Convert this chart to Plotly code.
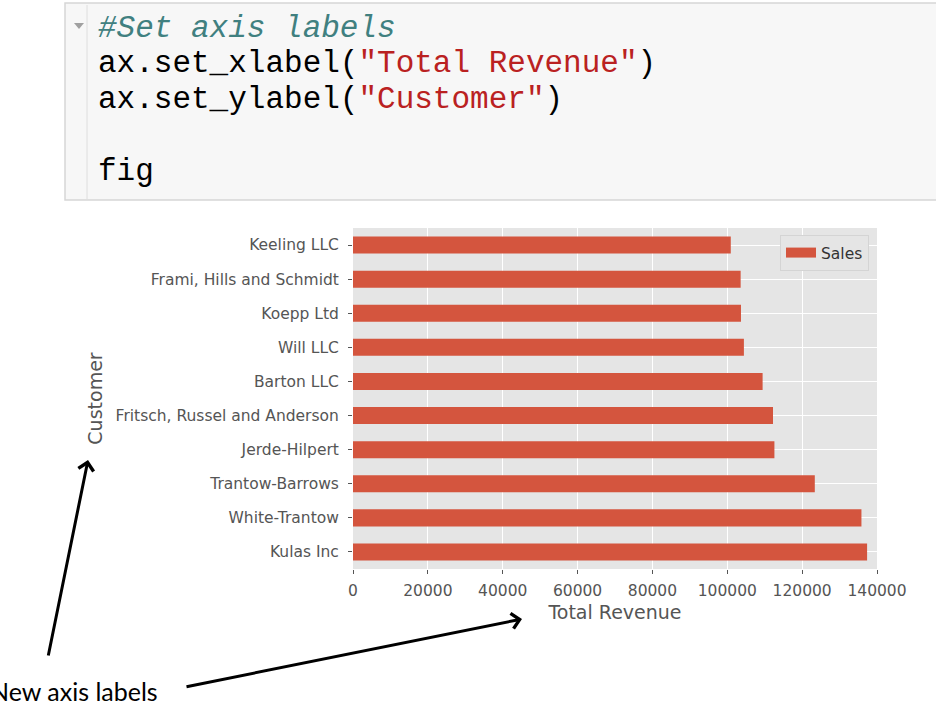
import plotly.graph_objects as go

# ---- data ----
customers = ["Kulas Inc", "White-Trantow", "Trantow-Barrows", "Jerde-Hilpert",
             "Fritsch, Russel and Anderson", "Barton LLC", "Will LLC", "Koepp Ltd",
             "Frami, Hills and Schmidt", "Keeling LLC"]
sales = [137351.96, 135841.99, 123381.38, 112591.43, 112214.71,
         109438.50, 104437.60, 103660.54, 103569.59, 100934.30]
series_name = "Sales"
x_title = "Total Revenue"
y_title = "Customer"
code_lines = [
    '<i>#Set axis labels</i>',
    'ax.set_xlabel(<span style="color:#BA2121">"Total Revenue"</span>)',
    'ax.set_ylabel(<span style="color:#BA2121">"Customer"</span>)',
    'fig',
]
note_text = "New axis labels"

# ---- layout geometry (pixels) ----
W, H = 936, 718
L, R, T, B = 353, 877, 228, 569

def px(x):
    return (x - L) / (R - L)

def py(y):
    return (B - y) / (B - T)

BAR = "#d4553e"
GREY = "#555555"
TICK_SIZE = 15.5

fig = go.Figure()
fig.add_trace(go.Bar(
    x=sales, y=customers, orientation="h", name=series_name,
    marker=dict(color=BAR, line=dict(width=0)), width=0.5, showlegend=False,
))
# legend entry (wide patch like matplotlib)
fig.add_trace(go.Scatter(
    x=[None], y=[None], mode="lines", name=series_name,
    line=dict(color=BAR, width=10), showlegend=True,
))

fig.update_layout(
    width=W, height=H,
    margin=dict(l=L, r=W - R, t=T, b=H - B, autoexpand=False),
    paper_bgcolor="white",
    plot_bgcolor="#e5e5e5",
    font=dict(family="DejaVu Sans", size=TICK_SIZE, color=GREY),
    legend=dict(
        x=px(869), y=py(235), xanchor="right", yanchor="top",
        bgcolor="#e5e5e5", bordercolor="#d4d4d4", borderwidth=1,
        font=dict(family="DejaVu Sans", size=TICK_SIZE, color="#333333"),
    ),
    xaxis=dict(
        range=[0, 140000], dtick=20000, tick0=0, tickformat="d",
        showgrid=True, gridcolor="white", gridwidth=1.2,
        zeroline=False, ticks="outside", ticklen=4, tickcolor=GREY,
        tickfont=dict(size=TICK_SIZE, color=GREY), showline=False,
        ticklabelstandoff=3,
        title=dict(text=x_title, font=dict(size=19, color=GREY), standoff=7),
    ),
    yaxis=dict(
        type="category", categoryorder="array", categoryarray=customers,
        showgrid=True, gridcolor="white", gridwidth=1.2,
        ticks="outside", ticklen=4, tickcolor=GREY,
        tickfont=dict(size=TICK_SIZE, color=GREY), showline=False,
        ticklabelstandoff=6,
        title=dict(text=y_title, font=dict(size=19, color=GREY), standoff=7),
    ),
)

# ---- code cell decoration ----
fig.add_shape(type="rect", xref="paper", yref="paper",
              x0=px(65), x1=px(945), y0=py(3), y1=py(200),
              fillcolor="#f7f7f7", line=dict(color="#d6d6d6", width=1.5), layer="below")
fig.add_shape(type="line", xref="paper", yref="paper",
              x0=px(87), x1=px(87), y0=py(5), y1=py(199),
              line=dict(color="#dedede", width=1))
fig.add_shape(type="path", xref="paper", yref="paper",
              path=f"M {px(74)},{py(23)} L {px(84)},{py(23)} L {px(79)},{py(29)} Z",
              fillcolor="#a0a0a0", line=dict(width=0))

line_y = [28, 63, 100, 172]
line_col = ["#408080", "#000000", "#000000", "#000000"]
for txt, yy, c in zip(code_lines, line_y, line_col):
    fig.add_annotation(xref="paper", yref="paper", x=px(96), y=py(yy),
                       xanchor="left", yanchor="middle", text=txt, showarrow=False,
                       font=dict(family="Liberation Mono", size=31, color=c))

# ---- note and arrows ----
fig.add_annotation(xref="paper", yref="paper", x=px(160), y=py(691),
                   xanchor="right", yanchor="middle", text=note_text, showarrow=False,
                   font=dict(family="Lato", size=25, color="#000000"))
for (hx, hy), (tx, ty) in [((88, 460), (48, 657)), ((522, 619), (185, 687))]:
    fig.add_annotation(xref="paper", yref="paper", x=px(hx), y=py(hy),
                       ax=tx - hx, ay=ty - hy, text="", showarrow=True,
                       arrowhead=4, arrowsize=1, arrowwidth=3, arrowcolor="#000000",
                       standoff=0)

fig.write_html("out.html")
